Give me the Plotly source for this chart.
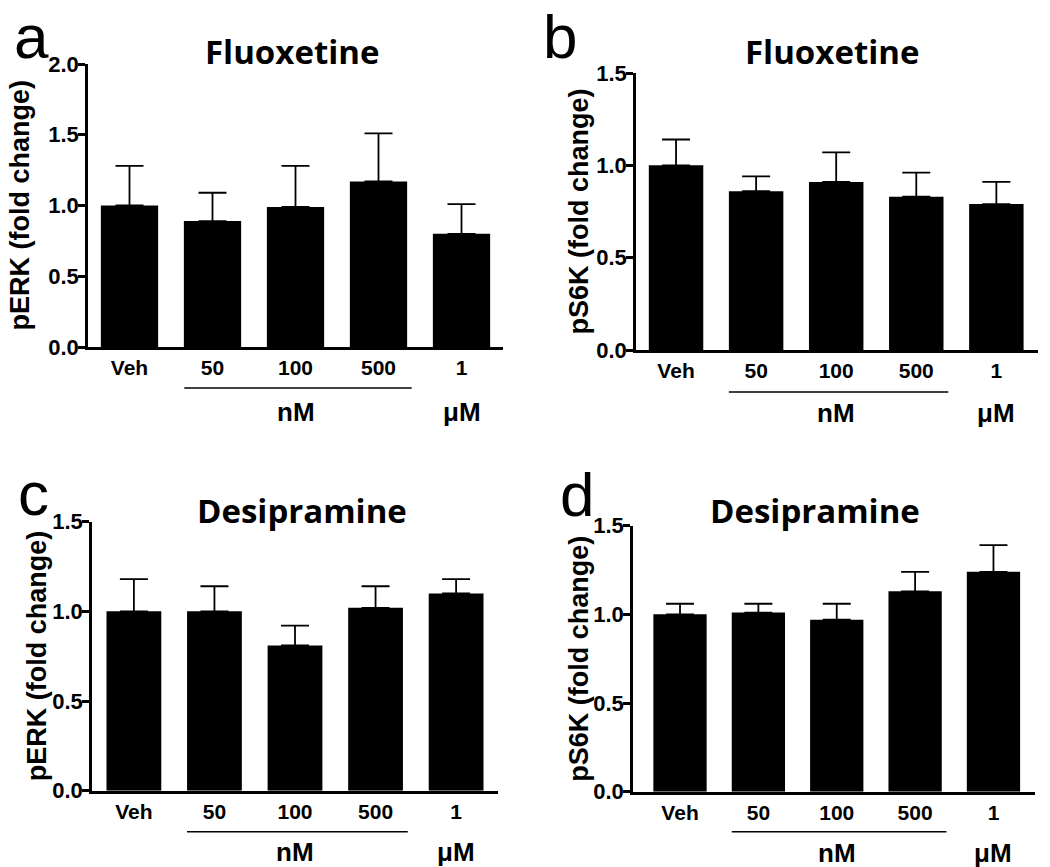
import plotly.graph_objects as go

W, H = 1050, 867

categories = ["Veh", "50", "100", "500", "1"]

# Panel a: Fluoxetine pERK
a_vals = [1.00, 0.89, 0.99, 1.17, 0.80]
a_err = [0.28, 0.20, 0.29, 0.34, 0.21]
# Panel b: Fluoxetine pS6K
b_vals = [1.00, 0.86, 0.91, 0.83, 0.79]
b_err = [0.14, 0.08, 0.16, 0.13, 0.12]
# Panel c: Desipramine pERK
c_vals = [1.00, 1.00, 0.81, 1.02, 1.10]
c_err = [0.18, 0.14, 0.11, 0.12, 0.08]
# Panel d: Desipramine pS6K
d_vals = [1.00, 1.01, 0.97, 1.13, 1.24]
d_err = [0.06, 0.05, 0.09, 0.11, 0.15]

panels = [
    dict(letter="a", title="Fluoxetine", ylabel="pERK (fold change)", vals=a_vals, err=a_err,
         ymax=2.0, ticks=[0, 0.5, 1.0, 1.5, 2.0],
         px=(88, 503), py=(347, 64), xr=(-0.5, 4.5), bw=0.69,
         letter_pos=(31, 0), title_pos=(292, 52), ylab_x=20, line_y=388, unit_y=412),
    dict(letter="b", title="Fluoxetine", ylabel="pS6K (fold change)", vals=b_vals, err=b_err,
         ymax=1.5, ticks=[0, 0.5, 1.0, 1.5],
         px=(636, 1038), py=(350, 73), xr=(-0.5, 4.52), bw=0.68,
         letter_pos=(560, 0), title_pos=(832, 52), ylab_x=578, line_y=392, unit_y=413),
    dict(letter="c", title="Desipramine", ylabel="pERK (fold change)", vals=c_vals, err=c_err,
         ymax=1.5, ticks=[0, 0.5, 1.0, 1.5],
         px=(92, 498), py=(790.7, 521.7), xr=(-0.52, 4.52), bw=0.68,
         letter_pos=(33, 457), title_pos=(302, 510), ylab_x=37, line_y=831.7, unit_y=852),
    dict(letter="d", title="Desipramine", ylabel="pS6K (fold change)", vals=d_vals, err=d_err,
         ymax=1.5, ticks=[0, 0.5, 1.0, 1.5],
         px=(633, 1035), py=(791.7, 525.7), xr=(-0.6, 4.53), bw=0.68,
         letter_pos=(577, 458), title_pos=(815, 510), ylab_x=579, line_y=831.7, unit_y=853),
]

line_x0, line_x1 = 0.66, 3.4
BOLD = "Liberation Sans, Arial"
YTICKFONT = dict(family=BOLD, size=22, color="black", weight="bold")
XTICKFONT = dict(family=BOLD, size=21, color="black", weight="bold")

fig = go.Figure()
annotations = []
shapes = []
layout = dict(width=W, height=H, margin=dict(l=0, r=0, t=0, b=0, autoexpand=False),
              template="none",
              paper_bgcolor="white", plot_bgcolor="white", showlegend=False)

for i, p in enumerate(panels):
    n = i + 1
    xa = "x" if n == 1 else f"x{n}"
    ya = "y" if n == 1 else f"y{n}"
    fig.add_trace(go.Bar(
        x=list(range(len(categories))), y=p["vals"], width=p["bw"],
        marker=dict(color="black", line=dict(width=0)),
        error_y=dict(type="data", array=p["err"], arrayminus=[0] * len(p["err"]),
                     symmetric=False, color="black", thickness=1.8, width=14),
        xaxis=xa, yaxis=ya, hoverinfo="skip"))
    xd = [p["px"][0] / W, p["px"][1] / W]
    yd = [1 - p["py"][0] / H, 1 - p["py"][1] / H]
    layout[f"xaxis{'' if n == 1 else n}"] = dict(
        domain=xd, range=list(p["xr"]), anchor=ya, automargin=False,
        tickvals=list(range(len(categories))), ticktext=categories,
        showline=True, linecolor="black", linewidth=2.5, ticks="",
        tickfont=XTICKFONT, showgrid=False, zeroline=False, fixedrange=True)
    layout[f"yaxis{'' if n == 1 else n}"] = dict(
        domain=yd, range=[0, p["ymax"]], anchor=xa, automargin=False,
        tickvals=p["ticks"], tickformat=".1f", ticklabelstandoff=-5,
        showline=True, linecolor="black", linewidth=2.5, ticks="outside",
        ticklen=7, tickwidth=2.5, tickcolor="black", tickfont=YTICKFONT,
        showgrid=False, zeroline=False, fixedrange=True)
    annotations.append(dict(text=p["ylabel"], textangle=-90, xref="paper", yref="paper",
                            x=p["ylab_x"] / W, y=(yd[0] + yd[1]) / 2, showarrow=False,
                            xanchor="center", yanchor="middle",
                            font=dict(family=BOLD, size=27, color="black", weight="bold")))
    annotations.append(dict(text=p["title"], xref="paper", yref="paper",
                            x=p["title_pos"][0] / W, y=1 - p["title_pos"][1] / H, showarrow=False,
                            xanchor="center", yanchor="middle",
                            font=dict(family="Open Sans", size=33, color="black", weight="bold")))
    annotations.append(dict(text=p["letter"], xref="paper", yref="paper",
                            x=p["letter_pos"][0] / W, y=1 - p["letter_pos"][1] / H, showarrow=False,
                            xanchor="center", yanchor="top",
                            font=dict(family="Liberation Sans, Arial", size=62, color="black")))
    for ux, ut in [(2, "nM"), (4, "μM")]:
        annotations.append(dict(text=ut, xref=xa, yref="paper", x=ux, y=1 - p["unit_y"] / H,
                                showarrow=False, xanchor="center", yanchor="middle",
                                font=dict(family=BOLD, size=26, color="black", weight="bold")))
    shapes.append(dict(type="line", xref=xa, yref="paper", x0=line_x0, x1=line_x1,
                       y0=1 - p["line_y"] / H, y1=1 - p["line_y"] / H,
                       line=dict(color="black", width=1.5)))

layout["annotations"] = annotations
layout["shapes"] = shapes
fig.update_layout(**layout)
fig.write_html("out.html", config={"displayModeBar": False},
               post_script="document.body.style.margin='0';")
